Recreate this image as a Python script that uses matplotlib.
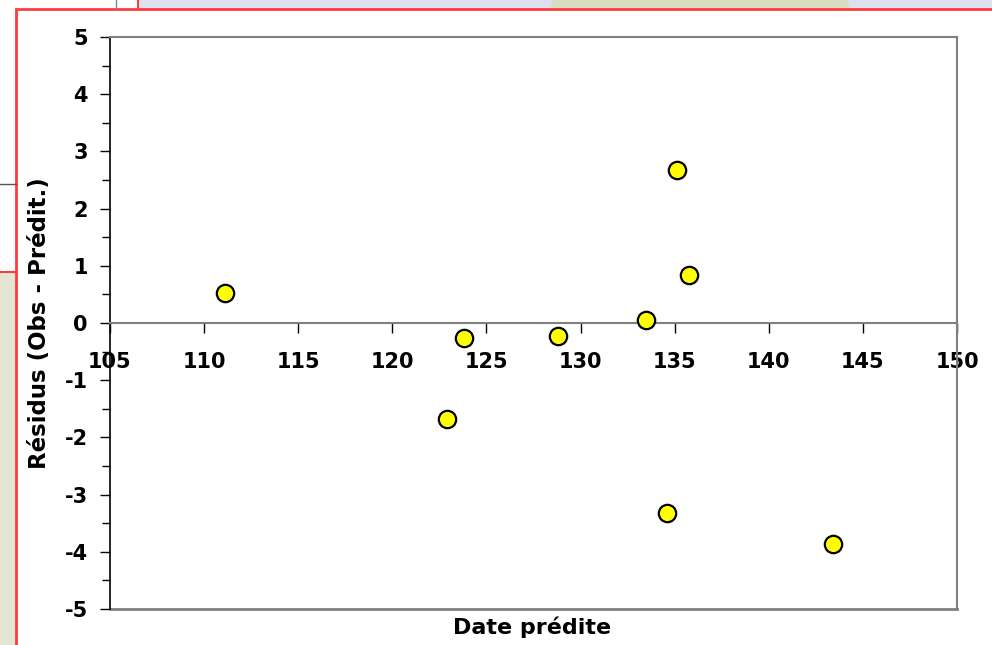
import matplotlib
matplotlib.use("Agg")
import matplotlib.pyplot as plt
from matplotlib.patches import Rectangle, Ellipse
from matplotlib.lines import Line2D
from matplotlib.ticker import MultipleLocator

# data
date_predite = [111.1, 122.9, 123.8, 128.8, 133.5, 134.6, 135.1, 135.75, 143.4]
residus = [0.52, -1.68, -0.26, -0.22, 0.05, -3.32, 2.67, 0.84, -3.87]

x_ticks = [105, 110, 115, 120, 125, 130, 135, 140, 145, 150]
y_ticks = [-5, -4, -3, -2, -1, 0, 1, 2, 3, 4, 5]

W, H = 992, 645
plt.rcParams['font.family'] = ['DejaVu Sans']
plt.rcParams['font.weight'] = 'bold'
plt.rcParams['axes.unicode_minus'] = False

fig = plt.figure(figsize=(W / 100, H / 100), dpi=100)
fig.patch.set_facecolor('#dde1ef')


def px(x, y):
    # pixel (from top-left) -> figure fraction
    return x / W, 1 - y / H


def rect(x0, y0, x1, y1, **kw):
    (a, b), (c, d) = px(x0, y1), px(x1, y0)
    fig.add_artist(Rectangle((a, b), c - a, d - b, transform=fig.transFigure, **kw))


def line(xs, ys, **kw):
    pts = [px(x, y) for x, y in zip(xs, ys)]
    fig.add_artist(Line2D([p[0] for p in pts], [p[1] for p in pts],
                          transform=fig.transFigure, **kw))


# slide background behind the chart
rect(0, 272, 20, 650, facecolor='#e3e7d2', edgecolor='none')
e = Ellipse(px(700, 5), 300 / W, 40 / H, transform=fig.transFigure,
            facecolor='#d9ddb4', edgecolor='none', alpha=0.8)
fig.add_artist(e)
rect(-5, -5, 138, 272, facecolor='white', edgecolor='#ff3b3b', linewidth=1.5)
line([0, 16], [184, 184], color='#555555', linewidth=1)
line([116, 116], [0, 9], color='#888888', linewidth=1)
# chart area frame
rect(16, 9, 1000, 660, facecolor='white', edgecolor='#ff3b3b', linewidth=2)

# plot area
ax = fig.add_axes([110 / W, 1 - 609 / H, 847 / W, 572 / H])
ax.set_zorder(10)
ax.set_facecolor('white')
ax.set_xlim(105, 150)
ax.set_ylim(-5, 5)

ax.spines['left'].set_color('black')
ax.spines['left'].set_linewidth(1.2)
for s in ['top', 'right']:
    ax.spines[s].set_color('#808080')
    ax.spines[s].set_linewidth(1.5)
# x axis crosses at y = 0
ax.spines['bottom'].set_position(('data', 0))
ax.spines['bottom'].set_color('#808080')
ax.spines['bottom'].set_linewidth(1.5)
ax.axhline(-5, color='#808080', linewidth=2, clip_on=False)

ax.set_xticks(x_ticks)
ax.set_yticks(y_ticks)
ax.yaxis.set_minor_locator(MultipleLocator(0.5))
ax.tick_params(axis='x', direction='out', length=7, width=1, color='black',
               labelsize=15, pad=14)
ax.tick_params(axis='y', which='major', direction='out', length=7, width=1,
               color='black', labelsize=15, pad=9)
ax.tick_params(axis='y', which='minor', direction='out', length=6, width=1,
               color='black')

ax.plot(date_predite, residus, 'o', markersize=12.5, markerfacecolor='#ffff00',
        markeredgecolor='black', markeredgewidth=1.6, linestyle='none',
        clip_on=False, zorder=5)

t1 = fig.text(532 / W, 1 - 627 / H, 'Date prédite', ha='center', va='center',
              fontsize=16, fontweight='bold')
t2 = fig.text(40 / W, 1 - 323 / H, 'Résidus (Obs - Prédit.)', ha='center',
              va='center', rotation=90, fontsize=16.5, fontweight='bold')
t1.set_zorder(11)
t2.set_zorder(11)

fig.savefig('out.png', dpi=100, facecolor=fig.get_facecolor())
